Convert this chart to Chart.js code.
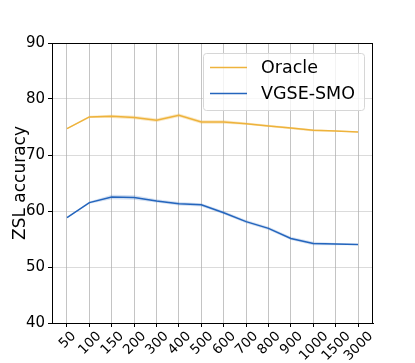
<!DOCTYPE html>
<html>
<head>
<meta charset="utf-8">
<script src="https://cdn.jsdelivr.net/npm/chart.js@4.4.1/dist/chart.umd.min.js"></script>
<style>
  html, body { margin: 0; padding: 0; background: #fff; }
  #wrap { width: 415px; height: 363px; }
</style>
</head>
<body>
<div id="wrap"><canvas id="grafico"></canvas></div>
<script>
// dados
const ROTULOS = ['50', '100', '150', '200', '300', '400', '500', '600', '700', '800', '900', '1000', '1500', '3000'];
const ORACLE = [74.7, 76.8, 76.9, 76.7, 76.2, 77.1, 75.9, 75.9, 75.6, 75.2, 74.8, 74.4, 74.3, 74.1];
const ORACLE_STD = [0.1, 0.2, 0.3, 0.3, 0.3, 0.3, 0.3, 0.3, 0.2, 0.2, 0.2, 0.2, 0.1, 0.1];
const VGSE = [58.8, 61.5, 62.5, 62.4, 61.8, 61.3, 61.1, 59.7, 58.1, 56.9, 55.1, 54.2, 54.1, 54.0];
const VGSE_STD = [0.1, 0.2, 0.4, 0.4, 0.3, 0.3, 0.3, 0.3, 0.3, 0.3, 0.3, 0.3, 0.2, 0.1];
const Y_TICKS = [40, 50, 60, 70, 80, 90];

const COR_ORACLE = '#eeb33c';
const COR_VGSE = '#2465bd';

function pontos(valores, delta, sinal) {
    return valores.map(function(v, i) {
        var d = delta ? sinal * delta[i] : 0;
        return { x: i, y: v + d };
    });
}

function banda(valores, std, cor) {
    return [
        { label: '_lo', data: pontos(valores, std, -1), order: 2, borderWidth: 0, pointRadius: 0, fill: false, borderColor: 'transparent' },
        { label: '_hi', data: pontos(valores, std, 1), order: 2, borderWidth: 0, pointRadius: 0, fill: '-1', borderColor: 'transparent', backgroundColor: cor }
    ];
}

const datasets = []
    .concat(banda(ORACLE, ORACLE_STD, 'rgba(238,179,60,0.3)'))
    .concat(banda(VGSE, VGSE_STD, 'rgba(36,101,189,0.2)'))
    .concat([
        { label: 'Oracle', data: pontos(ORACLE), order: 0, borderColor: COR_ORACLE, borderWidth: 1.5, pointRadius: 0, fill: false, tension: 0 },
        { label: 'VGSE-SMO', data: pontos(VGSE), order: 0, borderColor: COR_VGSE, borderWidth: 1.5, pointRadius: 0, fill: false, tension: 0 }
    ]);

// legenda, moldura e rótulos do eixo x desenhados à mão (estilo matplotlib)
const molduraPlugin = {
    id: 'moldura',
    afterDraw: function(chart) {
        const ctx = chart.ctx;
        const a = chart.chartArea;
        ctx.save();
        ctx.strokeStyle = '#000';
        ctx.lineWidth = 1;
        ctx.strokeRect(a.left + 0.5, a.top + 0.5, a.right - a.left - 1, a.bottom - a.top);

        // rótulos x girados 45°, centralizados no tick
        const sx = chart.scales.x;
        ctx.font = '13.5px "DejaVu Sans"';
        ctx.fillStyle = '#000';
        ctx.textAlign = 'center';
        ctx.textBaseline = 'middle';
        ROTULOS.forEach(function(r, i) {
            const w = ctx.measureText(r).width;
            const h = 10;
            const lado = (w + h) * Math.SQRT1_2;
            const cx = sx.getPixelForValue(i);
            const cy = a.bottom + 7 + lado / 2;
            ctx.save();
            ctx.translate(cx, cy);
            ctx.rotate(-Math.PI / 4);
            ctx.fillText(r, 0, 1);
            ctx.restore();
        });

        // legenda
        const itens = chart.data.datasets.filter(function(d) { return d.label[0] !== '_'; });
        const x0 = 203, y0 = 53, w = 161, h = 57;
        ctx.fillStyle = 'rgba(255,255,255,0.8)';
        ctx.strokeStyle = '#d6d6d6';
        ctx.beginPath();
        ctx.roundRect(x0 + 0.5, y0 + 0.5, w, h, 3);
        ctx.fill();
        ctx.stroke();
        ctx.font = '17.5px "DejaVu Sans"';
        ctx.textAlign = 'left';
        ctx.textBaseline = 'middle';
        itens.forEach(function(d, i) {
            const yy = y0 + 14.5 + i * 26;
            ctx.strokeStyle = d.borderColor;
            ctx.lineWidth = 1.5;
            ctx.beginPath();
            ctx.moveTo(x0 + 7, yy);
            ctx.lineTo(x0 + 44, yy);
            ctx.stroke();
            ctx.fillStyle = '#000';
            ctx.fillText(d.label, x0 + 58, yy + 1);
        });
        ctx.restore();
    }
};

new Chart(document.getElementById('grafico'), {
    type: 'line',
    data: { datasets: datasets },
    options: {
        responsive: true,
        maintainAspectRatio: false,
        animation: false,
        layout: { padding: { top: 43, right: 42, left: 10, bottom: 0 } },
        plugins: { legend: { display: false }, tooltip: { enabled: false } },
        scales: {
            x: {
                type: 'linear',
                min: -0.67,
                max: 13.67,
                afterBuildTicks: function(scale) {
                    scale.ticks = ROTULOS.map(function(r, i) { return { value: i }; });
                },
                afterFit: function(scale) { scale.height = 40; },
                ticks: { display: false },
                grid: { color: 'rgba(176,176,176,0.75)', tickColor: '#000', tickLength: 4, lineWidth: 1 },
                border: { color: '#000' }
            },
            y: {
                min: 40,
                max: 90,
                afterBuildTicks: function(scale) {
                    scale.ticks = Y_TICKS.map(function(v) { return { value: v }; });
                },
                afterFit: function(scale) { scale.width = 42; },
                ticks: {
                    color: '#000',
                    padding: 3,
                    font: { family: 'DejaVu Sans', size: 15 }
                },
                grid: { color: 'rgba(176,176,176,0.45)', tickColor: '#000', tickLength: 4 },
                border: { color: '#000' },
                title: {
                    display: true,
                    text: 'ZSL accuracy',
                    color: '#000',
                    padding: 0,
                    font: { family: 'DejaVu Sans', size: 17 }
                }
            }
        }
    },
    plugins: [molduraPlugin]
});
</script>
</body>
</html>
